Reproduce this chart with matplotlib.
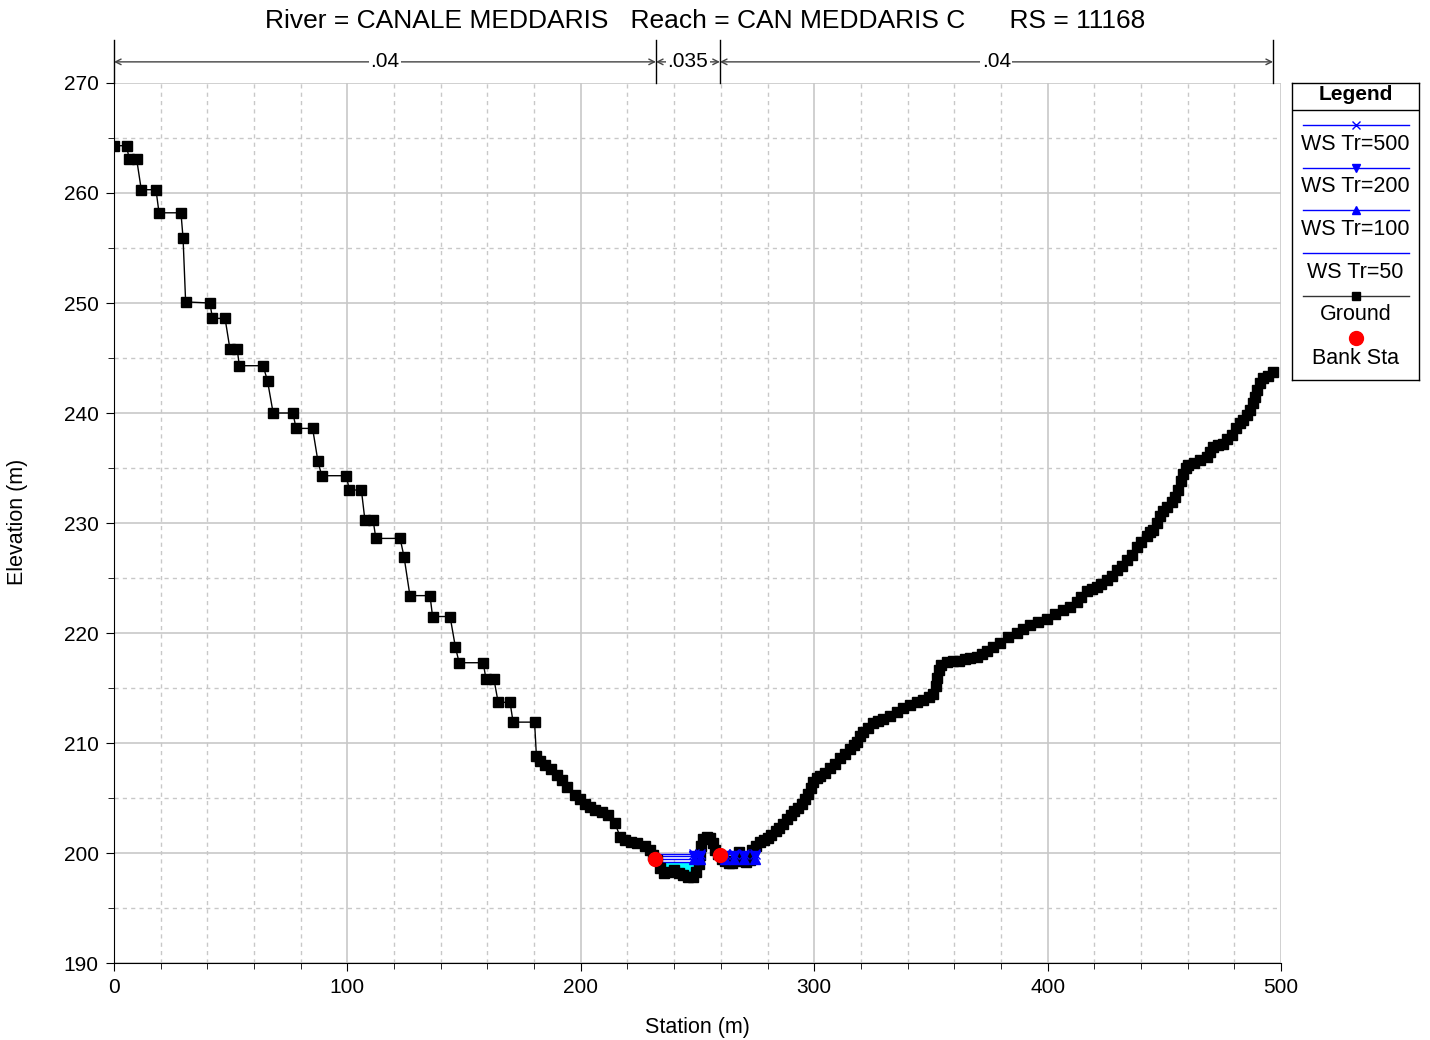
import numpy as np
import matplotlib.pyplot as plt
from matplotlib.lines import Line2D
from matplotlib.ticker import MultipleLocator

plt.rcParams['font.family'] = ['Liberation Sans', 'DejaVu Sans']

# Ground profile (station m, elevation m)
ground_sta = [0.0, 5.4, 6.5, 9.7, 11.7, 18.0, 19.3, 28.7, 29.6, 30.7,
              41.1, 42.2, 47.6, 49.7, 52.8, 53.7, 63.9, 65.8, 68.2, 76.7,
              78.0, 85.1, 87.4, 89.0, 99.6, 100.8, 106.0, 107.5, 111.0, 112.2,
              122.6, 124.3, 126.8, 135.4, 136.5, 144.0, 146.3, 147.9, 158.2, 159.4,
              162.8, 164.6, 169.7, 171.0, 180.2, 181.0, 182.5, 184.7, 187.2, 189.7,
              192.0, 194.0, 197.5, 199.8, 201.8, 204.0, 206.0, 209.0, 211.8, 214.7,
              216.8, 219.0, 221.5, 224.0, 227.5, 229.5, 231.0, 232.5, 234.0, 235.5,
              237.5, 240.0, 242.0, 244.0, 246.0, 248.0, 249.5, 250.5, 251.0, 251.5,
              252.5, 254.0, 255.5, 256.5, 257.5, 259.0, 260.5, 262.0, 263.5, 265.0,
              266.5, 268.0, 269.5, 271.0, 272.5, 273.5, 275.0,
              276.8, 278.5, 280.0, 281.5, 283.5, 285.0, 286.5, 288.2, 290.0, 291.5,
              293.0, 294.6, 296.0, 297.5, 298.5, 299.6, 301.0, 302.5, 304.6, 306.8,
              309.0, 311.0, 313.2, 315.4, 317.0, 318.2, 319.6, 321.0, 323.2, 325.3,
              327.5, 329.6, 332.5, 335.3, 338.2, 341.0, 344.0, 346.7, 349.0, 351.0,
              352.0, 352.8, 353.5, 354.5, 356.8, 359.5, 362.0, 364.5, 366.8, 369.6,
              372.0, 373.9, 376.7, 379.6, 383.0, 386.7, 389.5, 392.4, 396.0, 399.6,
              403.0, 406.7, 409.5, 412.4, 414.5, 416.7, 419.0, 421.0, 423.0, 425.3,
              427.5, 429.6, 431.8, 433.9, 436.0, 438.1, 440.2, 442.4, 444.0, 445.3,
              446.8, 448.1, 449.5, 451.0, 453.1, 454.6, 456.0, 457.2, 458.1, 459.2,
              460.3, 462.8, 465.3, 468.2, 469.6, 471.0, 473.0, 475.3, 477.0, 478.8,
              480.6, 482.4, 483.8, 485.3, 486.8, 488.1, 489.0, 489.6, 491.0, 492.4,
              494.5, 496.6]
ground_elev = [264.3, 264.3, 263.1, 263.1, 260.3, 260.3, 258.2, 258.2, 255.9, 250.1,
               250.0, 248.6, 248.6, 245.8, 245.8, 244.3, 244.3, 242.9, 240.0, 240.0,
               238.6, 238.6, 235.6, 234.3, 234.3, 233.0, 233.0, 230.3, 230.3, 228.6,
               228.6, 226.9, 223.4, 223.4, 221.5, 221.5, 218.7, 217.3, 217.3, 215.8,
               215.8, 213.7, 213.7, 211.9, 211.9, 208.8, 208.4, 208.0, 207.6, 207.1,
               206.6, 206.0, 205.3, 204.9, 204.5, 204.2, 203.9, 203.7, 203.5, 202.7,
               201.5, 201.2, 201.0, 200.9, 200.6, 200.3, 199.8, 199.4, 198.6, 198.2,
               198.3, 198.5, 198.2, 198.0, 197.8, 197.8, 198.3, 199.0, 199.8, 200.6,
               201.3, 201.5, 201.4, 200.9, 200.3, 199.9, 199.5, 199.3, 199.1, 199.1,
               199.3, 200.1, 199.6, 199.2, 199.4, 200.3, 200.6,
               201.0, 201.2, 201.4, 201.6, 202.0, 202.3, 202.6, 203.1, 203.5, 203.8,
               204.1, 204.5, 204.9, 205.4, 205.9, 206.5, 206.8, 207.0, 207.3, 207.7,
               208.1, 208.6, 209.0, 209.5, 209.8, 210.1, 210.6, 211.0, 211.4, 211.8,
               212.0, 212.2, 212.5, 212.8, 213.2, 213.5, 213.7, 213.9, 214.2, 214.5,
               215.2, 215.9, 216.6, 217.1, 217.4, 217.5, 217.5, 217.6, 217.7, 217.8,
               218.1, 218.4, 218.7, 219.1, 219.6, 220.0, 220.4, 220.7, 221.0, 221.3,
               221.7, 222.1, 222.4, 222.8, 223.3, 223.8, 224.0, 224.2, 224.5, 224.8,
               225.2, 225.7, 226.1, 226.6, 227.1, 227.8, 228.3, 228.8, 229.2, 229.4,
               230.0, 230.6, 231.1, 231.5, 231.9, 232.4, 233.0, 233.8, 234.5, 235.0,
               235.3, 235.5, 235.7, 236.0, 236.5, 236.9, 237.1, 237.2, 237.6, 238.0,
               238.6, 239.1, 239.4, 239.8, 240.3, 240.9, 241.5, 242.1, 242.7, 243.2,
               243.4, 243.7]

# Water surfaces and bank stations
ws_names = ['WS Tr=500', 'WS Tr=200', 'WS Tr=100', 'WS Tr=50']
ws_elev = [199.95, 199.7, 199.45, 199.15]
ws_markers = ['x', 'v', '^', None]
ws_reaches = [(232.0, 251.0), (259.6, 275.5)]
ws_marker_sta = [248.5, 251.0, 262.0, 265.5, 270.0, 274.5]

bank_sta = [231.8, 259.6]
bank_elev = [199.5, 199.8]

# Manning's n regions
n_breaks = [0.0, 232.2, 259.6, 496.6]
n_values = ['.04', '.035', '.04']

title = 'River = CANALE MEDDARIS   Reach = CAN MEDDARIS C      RS = 11168'


def main():
    fig = plt.figure(figsize=(14.3, 10.4), dpi=100)
    ax = fig.add_axes([0.0797, 0.074, 0.8161, 0.8462])

    # water fill below the lowest profile
    gs = np.array(ground_sta)
    ge = np.array(ground_elev)
    low = min(ws_elev)
    for a, b in ws_reaches:
        m = (gs >= a - 1) & (gs <= b + 1)
        ax.fill_between(gs[m], ge[m], low, where=ge[m] < low,
                        color='cyan', interpolate=True, zorder=2)

    for name, z, mk in zip(ws_names, ws_elev, ws_markers):
        for a, b in ws_reaches:
            ax.plot([a, b], [z, z], color='blue', lw=1.0, zorder=3)
        if mk:
            ax.plot(ws_marker_sta, [z] * len(ws_marker_sta), ls='none',
                    marker=mk, color='blue', ms=7, zorder=5)

    ax.plot(ground_sta, ground_elev, color='black', lw=1.0, marker='s',
            ms=7.2, zorder=4)
    ax.plot(bank_sta, bank_elev, ls='none', marker='o', color='red',
            ms=10, zorder=6)

    ax.set_xlim(0, 500)
    ax.set_ylim(190, 270)
    ax.xaxis.set_major_locator(MultipleLocator(100))
    ax.xaxis.set_minor_locator(MultipleLocator(20))
    ax.yaxis.set_major_locator(MultipleLocator(10))
    ax.yaxis.set_minor_locator(MultipleLocator(5))
    ax.grid(which='major', color='#c8c8c8', lw=1.2, ls='-')
    ax.grid(which='minor', color='#c8c8c8', lw=1.0, ls=(0, (3, 3)))
    ax.set_axisbelow(True)
    ax.spines['top'].set_visible(False)
    ax.spines['right'].set_visible(False)
    ax.tick_params(which='major', direction='out', length=6, labelsize=15,
                   pad=5)
    ax.tick_params(which='minor', direction='out', length=4)
    ax.set_xlabel('Station (m)', fontsize=15.5, va='center', ha='center')
    ax.set_ylabel('Elevation (m)', fontsize=15.5, va='center', ha='center')
    ax.xaxis.set_label_coords(0.4996, -0.0727)
    ax.yaxis.set_label_coords(-0.0823, 0.501)

    fig.text(0.493, 0.980, title, ha='center', va='center', fontsize=19)

    # Manning's n annotations above the plot
    trans = ax.get_xaxis_transform()
    for x in n_breaks:
        ax.plot([x, x], [1.0, 1.049], transform=trans, color='black',
                lw=1.0, clip_on=False)
    for (a, b), n in zip(zip(n_breaks[:-1], n_breaks[1:]), n_values):
        ax.annotate('', xy=(a, 1.024), xytext=(b, 1.024), xycoords=trans,
                    textcoords=trans,
                    arrowprops=dict(arrowstyle='<->', color='#444444',
                                    lw=1.0, shrinkA=0, shrinkB=0))
        ax.text((a + b) / 2, 1.024, n, transform=trans, ha='center',
                va='center', fontsize=15,
                bbox=dict(facecolor='white', edgecolor='none', pad=1))

    # legend box drawn by hand
    lg = fig.add_axes([1292 / 1430, 1 - 380 / 1040, 127 / 1430, 297 / 1040])
    lg.set_xlim(0, 127)
    lg.set_ylim(297, 0)
    lg.set_xticks([])
    lg.set_yticks([])
    for s in lg.spines.values():
        s.set_linewidth(1.0)
    lg.text(63.5, 12, 'Legend', ha='center', va='center', fontsize=15,
            fontweight='bold')
    lg.add_line(Line2D([0, 127], [27, 27], color='black', lw=1.0))
    items = [('WS Tr=500', 'blue', 'x'), ('WS Tr=200', 'blue', 'v'),
             ('WS Tr=100', 'blue', '^'), ('WS Tr=50', 'blue', None),
             ('Ground', '#333333', 's')]
    for i, (lab, c, mk) in enumerate(items):
        y = 42 + i * 42.7
        lg.add_line(Line2D([11, 117], [y, y], color=c, lw=1.0))
        if mk:
            lg.plot([63.5], [y], marker=mk, color=c if c == 'blue' else 'black',
                    ms=6, ls='none')
        lg.text(63.5, y + 19, lab, ha='center', va='center', fontsize=15.5)
    lg.plot([63.5], [255], marker='o', color='red', ms=10, ls='none')
    lg.text(63.5, 275, 'Bank Sta', ha='center', va='center', fontsize=15.5)

    fig.savefig('out.png', dpi=100)


if __name__ == "__main__":
    main()
